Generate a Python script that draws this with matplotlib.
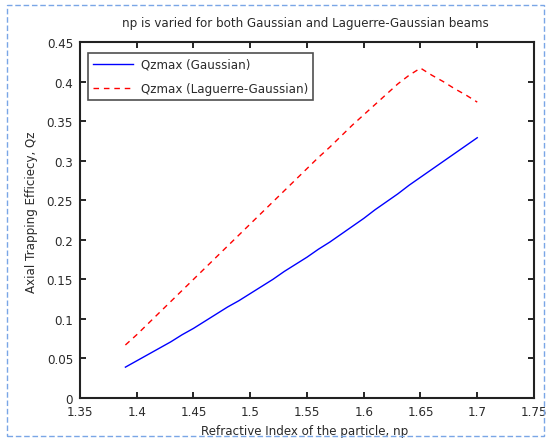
import matplotlib
matplotlib.use("Agg")
import matplotlib.pyplot as plt
from matplotlib.patches import Rectangle

np_vals = [1.39, 1.40, 1.41, 1.42, 1.43, 1.44, 1.45, 1.46, 1.47, 1.48, 1.49,
           1.50, 1.51, 1.52, 1.53, 1.54, 1.55, 1.56, 1.57, 1.58, 1.59, 1.60,
           1.61, 1.62, 1.63, 1.64, 1.65, 1.66, 1.67, 1.68, 1.69, 1.70]
qz_gauss = [0.039, 0.047, 0.055, 0.063, 0.071, 0.080, 0.088, 0.097, 0.106,
            0.115, 0.123, 0.132, 0.141, 0.150, 0.160, 0.169, 0.178, 0.188,
            0.197, 0.207, 0.217, 0.227, 0.238, 0.248, 0.258, 0.269, 0.279,
            0.289, 0.299, 0.309, 0.319, 0.329]
qz_lg = [0.067, 0.080, 0.094, 0.108, 0.122, 0.136, 0.150, 0.164, 0.178,
         0.192, 0.206, 0.220, 0.234, 0.248, 0.262, 0.276, 0.290, 0.304,
         0.317, 0.331, 0.345, 0.358, 0.371, 0.384, 0.397, 0.408, 0.417,
         0.408, 0.400, 0.391, 0.383, 0.374]
xticks = [1.35, 1.4, 1.45, 1.5, 1.55, 1.6, 1.65, 1.7, 1.75]
xticklabels = ["1.35", "1.4", "1.45", "1.5", "1.55", "1.6", "1.65", "1.7", "1.75"]
yticks = [0, 0.05, 0.1, 0.15, 0.2, 0.25, 0.3, 0.35, 0.4, 0.45]
yticklabels = ["0", "0.05", "0.1", "0.15", "0.2", "0.25", "0.3", "0.35", "0.4", "0.45"]

plt.rcParams['font.family'] = ['DejaVu Sans']
txt = '#2a2a2a'
fs = 8.6

W, H = 547, 439
fig = plt.figure(figsize=(W / 100, H / 100), dpi=100)
AX_L, AX_R, AX_T, AX_B = 80, 534, 43, 399
ax = fig.add_axes([AX_L / W, 1 - AX_B / H, (AX_R - AX_L) / W, (AX_B - AX_T) / H])
aw, ah = AX_R - AX_L, AX_B - AX_T

ax.plot(np_vals, qz_gauss, color='#0000ff', lw=1.0, linestyle='-',
        label='Qzmax (Gaussian)')
ax.plot(np_vals, qz_lg, color='#ff0000', lw=1.0, linestyle=(0, (4, 3.5)),
        label='Qzmax (Laguerre-Gaussian)')

ax.set_xlim(1.35, 1.75)
ax.set_ylim(0, 0.45)
ax.set_xticks(xticks)
ax.set_xticklabels(xticklabels)
ax.set_yticks(yticks)
ax.set_yticklabels(yticklabels)
ax.tick_params(direction='in', top=True, right=True, length=4, width=1.2,
               labelsize=fs, labelcolor=txt)
ax.tick_params(axis='x', pad=5)
ax.tick_params(axis='y', pad=5)
for s in ax.spines.values():
    s.set_linewidth(1.5)
    s.set_color('#222222')

fig.text(305 / W, 1 - 23 / H,
         'np is varied for both Gaussian and Laguerre-Gaussian beams',
         fontsize=fs, color=txt, ha='center', va='center')
ax.set_xlabel('Refractive Index of the particle, np', fontsize=fs, color=txt)
ax.xaxis.set_label_coords((305 - AX_L) / aw, -(425 - AX_B) / ah)
ax.set_ylabel('Axial Trapping Efficiecy, Qz', fontsize=fs, color=txt)
ax.yaxis.set_label_coords(-(AX_L - 38) / aw, 1 - (212 - AX_T) / ah)

leg = ax.legend(loc='upper left',
                bbox_to_anchor=((88 - AX_L) / aw, 1 - (54 - AX_T) / ah),
                fontsize=fs, frameon=True, fancybox=False, borderpad=0.4,
                handlelength=3.4, handletextpad=0.6, labelspacing=0.95,
                borderaxespad=0)
leg.get_frame().set_edgecolor('#222222')
leg.get_frame().set_linewidth(1.2)
for t in leg.get_texts():
    t.set_color(txt)

fig.patches.append(Rectangle((7 / W, 2 / H), (544 - 7) / W, (433 - 2) / H,
                             transform=fig.transFigure, fill=False,
                             edgecolor='#7aa6e6', lw=1.0,
                             linestyle=(0, (4, 2))))

fig.savefig('out.png', dpi=100)
